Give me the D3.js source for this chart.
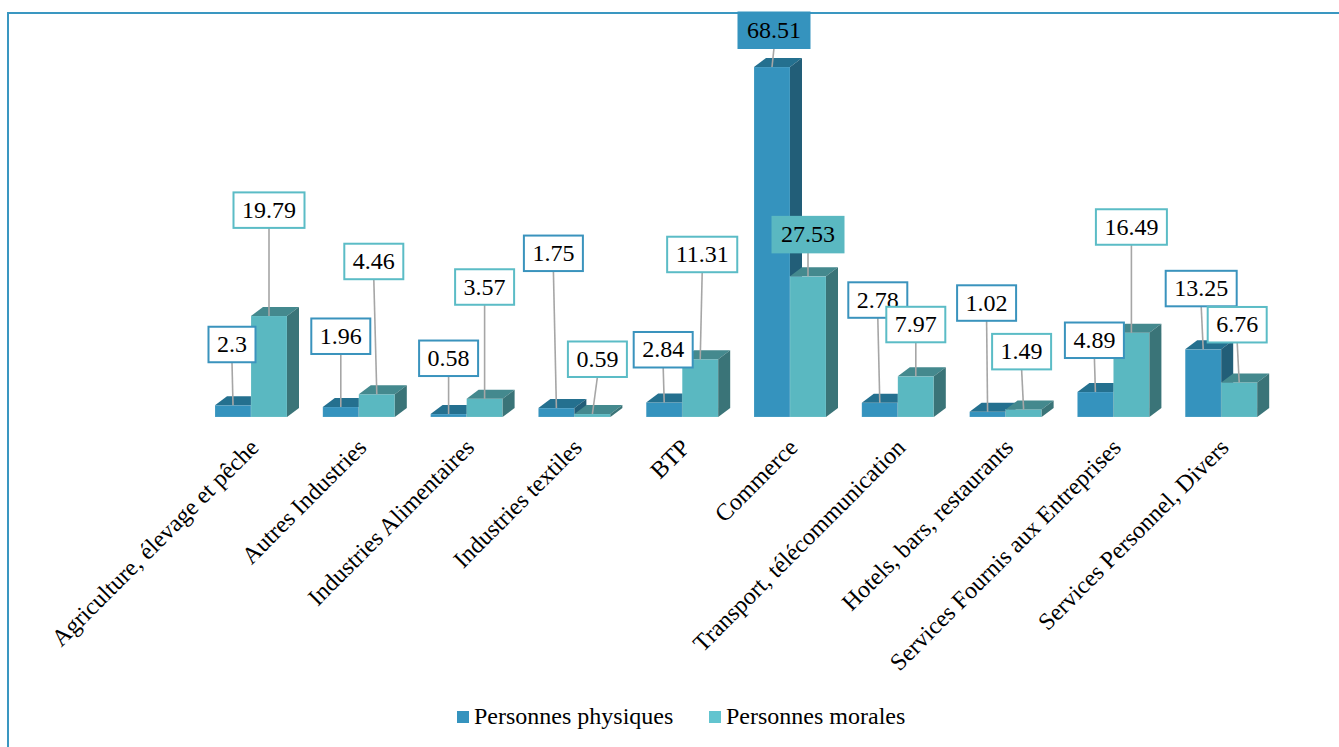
<!DOCTYPE html>
<html>
<head>
<meta charset="utf-8">
<script src="https://cdn.jsdelivr.net/npm/d3@7"></script>
<style>
  html, body { margin: 0; padding: 0; background: #fff; }
  svg { display: block; }
  svg text { font-family: "Liberation Serif", "Times New Roman", Times, serif; }
</style>
</head>
<body>
<div id="chart"></div>
<script>
const categories = [
  'Agriculture, élevage et pêche', 'Autres Industries', 'Industries Alimentaires',
  'Industries textiles', 'BTP', 'Commerce', 'Transport, télécommunication',
  'Hotels, bars, restaurants', 'Services Fournis aux Entreprises', 'Services Personnel, Divers'
];
const seriesNames = ['Personnes physiques', 'Personnes morales'];
const physiques = [2.3, 1.96, 0.58, 1.75, 2.84, 68.51, 2.78, 1.02, 4.89, 13.25];
const morales = [19.79, 4.46, 3.57, 0.59, 11.31, 27.53, 7.97, 1.49, 16.49, 6.76];

// hand placed label boxes (pixels above bar top / sideways shift), as in the source
const liftPhys = [43, 53, 38, 137, 35, 19, 85, 91, 34, 43];
const liftMor = [88, 115, 94, 37, 87, 24, 34, 40, 88, 40];
const shiftPhys = [-1, 0, 0, -3, -1, 2, -2, -1, -1, -2];
const shiftMor = [0, -3, 0, 5, 2, 0, 0, -2, 0, -2];
const filledLabel = 'Commerce';

const width = 1339, height = 747;
const baseY = 417, topY = 67;
const dx = 12, dy = 9;
const serif = '"Liberation Serif", "Times New Roman", Times, serif';

const colors = [
  { front: '#3593be', top: '#24708f', side: '#225e78', border: '#3a93bd', legend: '#3593be' },
  { front: '#5ab8c1', top: '#44898e', side: '#3a7478', border: '#5bbcc6', legend: '#62c4cf' }
];

const svg = d3.select('#chart').append('svg')
  .attr('width', width)
  .attr('height', height)
  .attr('font-family', serif);

// frame
svg.append('path')
  .attr('d', `M8,${height} L8,13 L${width},13`)
  .attr('fill', 'none')
  .attr('stroke', '#3a97c1')
  .attr('stroke-width', 2);

const x = d3.scaleBand()
  .domain(categories)
  .range([197.1, 1275.1])
  .paddingInner(0.332)
  .paddingOuter(0.166);

const xs = d3.scaleBand()
  .domain(seriesNames)
  .range([0, x.bandwidth()]);

const y = d3.scaleLinear()
  .domain([0, d3.max(physiques)])
  .range([baseY, topY]);

const rows = categories.map((c, i) => ({
  cat: c,
  vals: [physiques[i], morales[i]],
  lift: [liftPhys[i], liftMor[i]],
  shift: [shiftPhys[i], shiftMor[i]]
}));

const bw = xs.bandwidth();
const bars = svg.append('g');
rows.forEach(r => {
  r.vals.forEach((v, s) => {
    const x0 = x(r.cat) + xs(seriesNames[s]);
    const t = y(v);
    const c = colors[s];
    const g = bars.append('g');
    g.append('rect')
      .attr('x', x0).attr('y', t)
      .attr('width', bw).attr('height', baseY - t)
      .attr('fill', c.front)
      .attr('stroke', 'rgba(255,255,255,0.25)')
      .attr('stroke-width', 0.6);
    g.append('path')
      .attr('d', `M${x0},${t} L${x0 + dx},${t - dy} L${x0 + bw + dx},${t - dy} L${x0 + bw},${t} Z`)
      .attr('fill', c.top);
    g.append('path')
      .attr('d', `M${x0 + bw},${t} L${x0 + bw + dx},${t - dy} L${x0 + bw + dx},${baseY - dy} L${x0 + bw},${baseY} Z`)
      .attr('fill', c.side);
  });
});

// value labels with leader lines
const labels = svg.append('g');
rows.forEach(r => {
  r.vals.forEach((v, s) => {
    const cx = x(r.cat) + xs(seriesNames[s]) + bw / 2;
    const t = y(v);
    const boxBottom = t - r.lift[s];
    const bx = cx + r.shift[s];
    const filled = r.cat === filledLabel;
    const c = colors[s];

    labels.append('line')
      .attr('x1', bx).attr('y1', boxBottom)
      .attr('x2', cx).attr('y2', t)
      .attr('stroke', '#a6a6a6')
      .attr('stroke-width', 1.6);

    const g = labels.append('g');
    const rect = g.append('rect');
    const txt = g.append('text')
      .attr('x', bx)
      .attr('y', boxBottom - 10)
      .attr('text-anchor', 'middle')
      .attr('font-family', serif)
      .attr('font-size', 24)
      .attr('fill', '#000')
      .text(v);
    const w = txt.node().getComputedTextLength() + 17;
    rect.attr('x', bx - w / 2).attr('y', boxBottom - 35.5)
      .attr('width', w).attr('height', 35.5)
      .attr('fill', filled ? c.front : '#fff')
      .attr('stroke', filled ? c.front : c.border)
      .attr('stroke-width', 2);
  });
});

// category axis labels
svg.append('g')
  .selectAll('text')
  .data(categories)
  .join('text')
  .attr('transform', d => `translate(${x(d) + x.bandwidth() / 2 + 9},449) rotate(-45)`)
  .attr('text-anchor', 'end')
  .attr('font-family', serif)
  .attr('font-size', 24)
  .attr('fill', '#000')
  .text(d => d);

// legend
const legendX = [457, 709];
const legend = svg.append('g');
seriesNames.forEach((n, i) => {
  legend.append('rect')
    .attr('x', legendX[i]).attr('y', 711)
    .attr('width', 12).attr('height', 12)
    .attr('fill', colors[i].legend);
  legend.append('text')
    .attr('x', legendX[i] + 17).attr('y', 724)
    .attr('font-family', serif)
    .attr('font-size', 24)
    .attr('fill', '#000')
    .text(n);
});
</script>
</body>
</html>
